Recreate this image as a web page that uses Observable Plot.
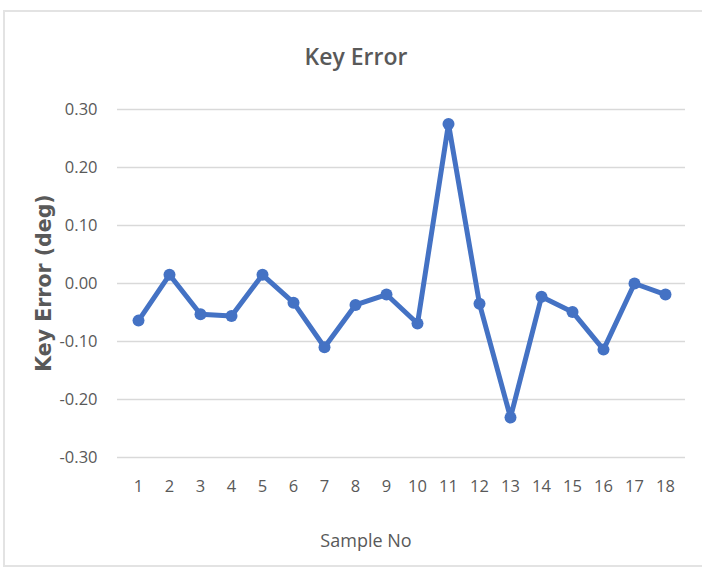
<!DOCTYPE html>
<html>
<head>
<meta charset="utf-8">
<script src="https://cdn.jsdelivr.net/npm/d3@7"></script>
<script src="https://cdn.jsdelivr.net/npm/@observablehq/plot@0.6"></script>
<style>
  html, body { margin: 0; padding: 0; background: #fff; }
  #wrap { position: relative; width: 702px; height: 570px; overflow: hidden; font-family: "Open Sans", sans-serif; }
  #frame { position: absolute; left: 3px; top: 10px; width: 720px; height: 557px; border: 2px solid #e3e3e3; box-sizing: border-box; }
  #title { position: absolute; left: 0; width: 712px; top: 40px; text-align: center; font-size: 23px; font-weight: 600; color: #595959; }
  #xlabel { position: absolute; left: 0; width: 732px; top: 528px; text-align: center; font-size: 18px; color: #595959; }
  #ylabel { position: absolute; left: 44px; top: 283px; transform: translate(-50%, -50%) rotate(-90deg); white-space: nowrap; font-family: "DejaVu Sans", sans-serif; font-weight: bold; font-size: 20.5px; color: #595959; }
  #chart { position: absolute; left: 0; top: 0; }
  #chart svg text { font-size: 16.5px !important; }
</style>
</head>
<body>
<div id="wrap">
  <div id="frame"></div>
  <div id="chart"></div>
  <div id="title">Key Error</div>
  <div id="ylabel">Key Error (deg)</div>
  <div id="xlabel">Sample No</div>
</div>
<script>
const samples = [1,2,3,4,5,6,7,8,9,10,11,12,13,14,15,16,17,18];
const keyError = [-0.064, 0.015, -0.053, -0.056, 0.015, -0.033, -0.110, -0.037, -0.019, -0.069, 0.275, -0.035, -0.231, -0.023, -0.049, -0.114, 0.000, -0.019];
const yTicks = [-0.30, -0.20, -0.10, 0.00, 0.10, 0.20, 0.30];

const data = samples.map((s, i) => ({sample: s, value: keyError[i]}));

const chart = Plot.plot({
  width: 702,
  height: 570,
  marginLeft: 117,
  marginRight: 17,
  marginTop: 109,
  marginBottom: 113,
  style: { fontFamily: "Open Sans, sans-serif", fontSize: "16.5px", color: "#595959", background: "transparent" },
  x: { type: "point", domain: samples, padding: 0.5, label: null },
  y: { domain: [-0.3, 0.3], label: null },
  marks: [
    Plot.ruleY(yTicks, { stroke: "#d9d9d9", strokeWidth: 1.5 }),
    Plot.axisY(yTicks, { tickSize: 0, tickPadding: 20, tickFormat: d => d.toFixed(2), fill: "#595959", label: null }),
    Plot.axisX(samples, { tickSize: 0, tickPadding: 23, fill: "#595959", label: null }),
    Plot.line(data, { x: "sample", y: "value", stroke: "#4472c4", strokeWidth: 5, strokeLinejoin: "round" }),
    Plot.dot(data, { x: "sample", y: "value", r: 6, fill: "#4472c4", stroke: "none" })
  ]
});
document.getElementById("chart").appendChild(chart);
</script>
</body>
</html>
